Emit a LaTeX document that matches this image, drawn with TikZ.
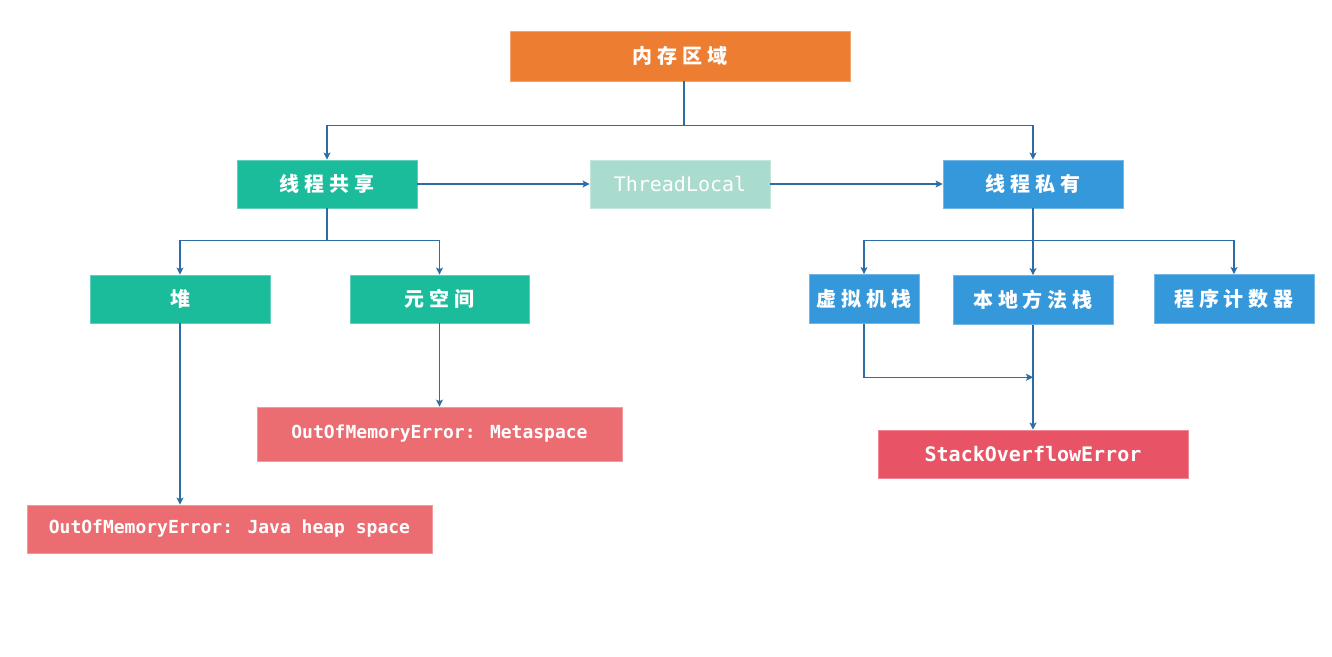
\documentclass[tikz,border=0pt]{standalone}
\usepackage{fontspec}
\usetikzlibrary{arrows.meta,calc}
\newfontfamily\cjk[LetterSpace=24]{Noto Sans CJK SC}
\newfontfamily\mono{DejaVu Sans Mono}
\definecolor{cOrange}{HTML}{ED7D31}
\definecolor{cTeal}{HTML}{1ABC9C}
\definecolor{cLight}{HTML}{A9DBCE}
\definecolor{cBlue}{HTML}{3598DB}
\definecolor{cErr}{HTML}{EB6D72}
\definecolor{cSoe}{HTML}{E85466}
\definecolor{cLine}{HTML}{2E6DA4}
\tikzset{
  box/.style={rectangle, inner sep=0pt, text=white, line width=0.8pt},
  cjkbox/.style={box, font=\cjk\bfseries\fontsize{20}{24}\selectfont},
  errbox/.style={box, font=\mono\bfseries\fontsize{18}{22}\selectfont},
  conn/.style={draw=cLine, line width=1.3pt},
  arr/.style={conn, -{Stealth[length=7pt,width=7pt,inset=1.5pt]}}
}
\begin{document}
\begin{tikzpicture}[x=1pt,y=-1pt]
\useasboundingbox (0,0) rectangle (1332,656);
\fill[white] (0,0) rectangle (1332,656);
% nodes
\node[cjkbox, fill=cOrange, draw=cOrange!70!white, minimum width=340, minimum height=50] (mem) at (680,56) {内存区域};
\node[cjkbox, fill=cTeal, draw=cTeal!70!white, minimum width=180, minimum height=48] (shared) at (327,184) {线程共享};
\node[box, fill=cLight, draw=cLight!70!white, minimum width=180, minimum height=48, font=\mono\fontsize{20}{24}\selectfont] (tl) at (680,184) {ThreadLocal};
\node[cjkbox, fill=cBlue, draw=cBlue!70!white, minimum width=180, minimum height=48] (private) at (1033,184) {线程私有};
\node[cjkbox, fill=cTeal, draw=cTeal!70!white, minimum width=180, minimum height=48] (heap) at (180,299) {堆};
\node[cjkbox, fill=cTeal, draw=cTeal!70!white, minimum width=179, minimum height=48] (meta) at (439.5,299) {元空间};
\node[cjkbox, fill=cBlue, draw=cBlue!70!white, minimum width=110, minimum height=49] (jvm) at (864,299) {虚拟机栈};
\node[cjkbox, fill=cBlue, draw=cBlue!70!white, minimum width=160, minimum height=49] (native) at (1033,300) {本地方法栈};
\node[cjkbox, fill=cBlue, draw=cBlue!70!white, minimum width=160, minimum height=49] (pc) at (1234,299) {程序计数器};
\node[errbox, fill=cErr, draw=cErr!70!white, minimum width=365, minimum height=54] (metaerr) at (439.5,434) {OutOfMemoryError: Metaspace};
\node[errbox, fill=cErr, draw=cErr!70!white, minimum width=405, minimum height=48] (heaperr) at (229.5,529) {OutOfMemoryError: Java heap space};
\node[box, fill=cSoe, draw=cSoe!70!white, minimum width=310, minimum height=48, font=\mono\bfseries\fontsize{20}{24}\selectfont] (soe) at (1033,454) {StackOverflowError};
% connectors
\coordinate (ms) at ([xshift=4pt]mem.south);
\draw[conn] (ms) -- ++(0,44) coordinate (mj);
\draw[arr] (mj) -| (shared.north);
\draw[arr] (mj) -| (private.north);
\draw[arr] (shared) -- (tl);
\draw[arr] (tl) -- (private);
\draw[conn] (shared.south) -- ++(0,32) coordinate (sj);
\draw[arr] (sj) -| (heap.north);
\draw[arr] (sj) -| (meta.north);
\draw[conn] (private.south) -- ++(0,32) coordinate (pj);
\draw[arr] (pj) -| (jvm.north);
\draw[arr] (pj) -| (native.north);
\draw[arr] (pj) -| (pc.north);
\draw[arr] (meta.south) -- (meta.south |- metaerr.north);
\draw[arr] (heap.south) -- (heap.south |- heaperr.north);
\draw[arr] (native.south) -- (native.south |- soe.north);
\coordinate (jn) at ($(native.south)!0.5!(native.south |- soe.north)$);
\draw[arr] (jvm.south) |- (jn);
\end{tikzpicture}
\end{document}
